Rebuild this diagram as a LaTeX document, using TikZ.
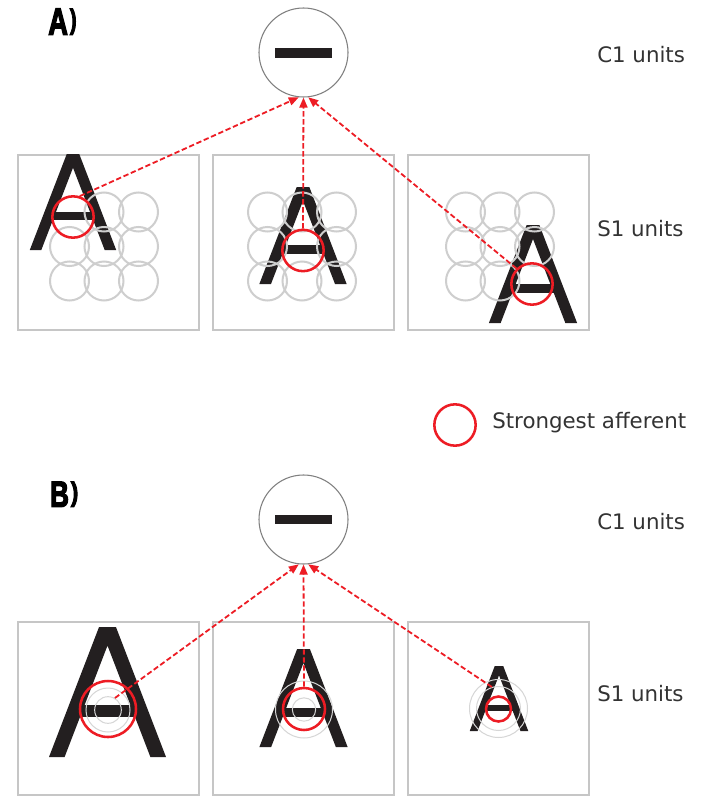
\documentclass[tikz,border=0pt]{standalone}
\usepackage{fontspec}
\setmainfont{DejaVu Sans}
\newfontfamily\headfont{Liberation Sans}[FakeBold=4]
\usetikzlibrary{arrows.meta}

\definecolor{afferent}{RGB}{237,28,36}
\definecolor{frame}{RGB}{198,198,198}
\definecolor{rfgray}{RGB}{206,206,206}
\definecolor{rflight}{RGB}{214,214,214}
\definecolor{ink}{RGB}{35,31,32}
\definecolor{labeltext}{RGB}{51,51,51}
\definecolor{unitrim}{RGB}{128,128,128}

% panel tag such as "A)" in a tall condensed heavy face
\newcommand\paneltag[4]{{\headfont\bfseries
  \resizebox{#2}{#4}{#1}\hspace{1.5pt}\raisebox{\depth}{\resizebox*{#3}{#4}{)}}}}

% 3x3 grid of S1 receptive fields, leaving out the highlighted one
\newcommand\rfgrid[4]{%
  \foreach \i in {-1,0,1}{\foreach \j in {-1,0,1}{%
    \pgfmathtruncatemacro\skipme{and(\i==#3,\j==#4)}%
    \ifnum\skipme=0 \draw[rfcircle] ({#1+34.5*\i},{#2+34.5*\j}) circle[radius=19.5];\fi}}}

\begin{document}
\begin{tikzpicture}[x=0.75pt,y=-0.75pt,
  unitlabel/.style={font=\fontsize{16}{19}\selectfont, text=labeltext, anchor=base west, inner sep=0},
  c1unit/.style={circle, draw=unitrim, line width=0.8pt, minimum size=66.75pt, inner sep=0},
  pane/.style={draw=frame, line width=1.5pt},
  rfcircle/.style={draw=rfgray, line width=1.5pt},
  strongest/.style={circle, draw=afferent, line width=1.9pt, inner sep=0},
  ring/.style={circle, draw=rflight, line width=0.75pt, inner sep=0},
  flow/.style={draw=afferent, line width=1.35pt, dash pattern=on 4pt off 2pt,
    -{Triangle[length=7.5pt,width=6pt,fill=afferent]}},
  letterA/.pic={
    \fill[ink] (-6.5,0) -- (6.5,0) -- (45,100) -- (33,100) -- (0,14.3)
      -- (-33,100) -- (-45,100) -- cycle;
    \fill[ink] (-23,60) rectangle (23,69);
  }]

\fill[white] (0,0) rectangle (706,796);
\useasboundingbox (0,0) rectangle (706,796);

% ---------------- A) position invariance ----------------
\node[inner sep=0, anchor=south west] (tagA) at (48,35)
  {\paneltag{A}{14.75pt}{5pt}{19.5pt}};

\node[c1unit] (c1a) at (303.5,52.5) {};
\fill[ink] (275,48) rectangle (332,58);

\node[unitlabel] (c1labA) at (597,62) {C1 units};
\node[unitlabel] (s1labA) at (597,236) {S1 units};

\draw[pane] (18,155) rectangle (199,330);
\draw[pane] (213,155) rectangle (394,330);
\draw[pane] (408,155) rectangle (589,330);

\pic[scale=0.96] at (73,154) {letterA};
\pic[scale=0.97] at (303,187) {letterA};
\pic[scale=0.98] at (533,225) {letterA};

\rfgrid{104}{246.5}{-1}{-1}
\rfgrid{302}{246.5}{0}{0}
\rfgrid{500}{246.5}{1}{1}

\node[strongest, minimum size=31pt] (ra1) at (73,217) {};
\node[strongest, minimum size=31pt] (ra2) at (303,250.5) {};
\node[strongest, minimum size=31pt] (ra3) at (532,284) {};

\draw[flow] (ra1.72) -- (c1a.264);
\draw[flow] (ra2.north) -- (c1a.south);
\draw[flow] (ra3.135) -- (c1a.276);

% legend
\node[strongest, minimum size=31pt] (legendring) at (455,425) {};
\node[unitlabel] (legendtext) at (492,428) {Strongest afferent};

% ---------------- B) scale invariance ----------------
\node[inner sep=0, anchor=south west] (tagB) at (50,507)
  {\paneltag{B}{14pt}{5.5pt}{18.75pt}};

\node[c1unit] (c1b) at (303.5,519.5) {};
\fill[ink] (275,515) rectangle (332,524);

\node[unitlabel] (c1labB) at (597,529) {C1 units};
\node[unitlabel] (s1labB) at (597,701) {S1 units};

\draw[pane] (18,622) rectangle (199,795);
\draw[pane] (213,622) rectangle (394,795);
\draw[pane] (408,622) rectangle (589,795);

\pic[scale=1.30] at (107.5,627) {letterA};
\pic[scale=0.98] at (303.5,649) {letterA};
\pic[scale=0.65] at (499,666) {letterA};

% large letter: medium and small fields stay grey
\node[ring, minimum size=33pt] (gb1m) at (108,710) {};
\node[ring, minimum size=20pt] (gb1s) at (108,710) {};
\node[strongest, minimum size=42pt] (rb1) at (108,709) {};

% medium letter: large and small fields stay grey
\node[ring, minimum size=42.75pt] (gb2l) at (304,709.5) {};
\node[ring, minimum size=17.5pt] (gb2s) at (304,709.5) {};
\node[strongest, minimum size=31.5pt] (rb2) at (304,709) {};

% small letter: large and medium fields stay grey
\node[ring, minimum size=43.5pt] (gb3l) at (498.5,708.5) {};
\node[ring, minimum size=33pt] (gb3m) at (498.5,708.5) {};
\node[strongest, minimum size=18.75pt] (rb3) at (498.5,709) {};

\draw[flow] (gb1s.60) -- (c1b.264);
\draw[flow] (rb2.north) -- (c1b.south);
\draw[flow] (gb3m.107) -- (c1b.276);

\end{tikzpicture}
\end{document}
